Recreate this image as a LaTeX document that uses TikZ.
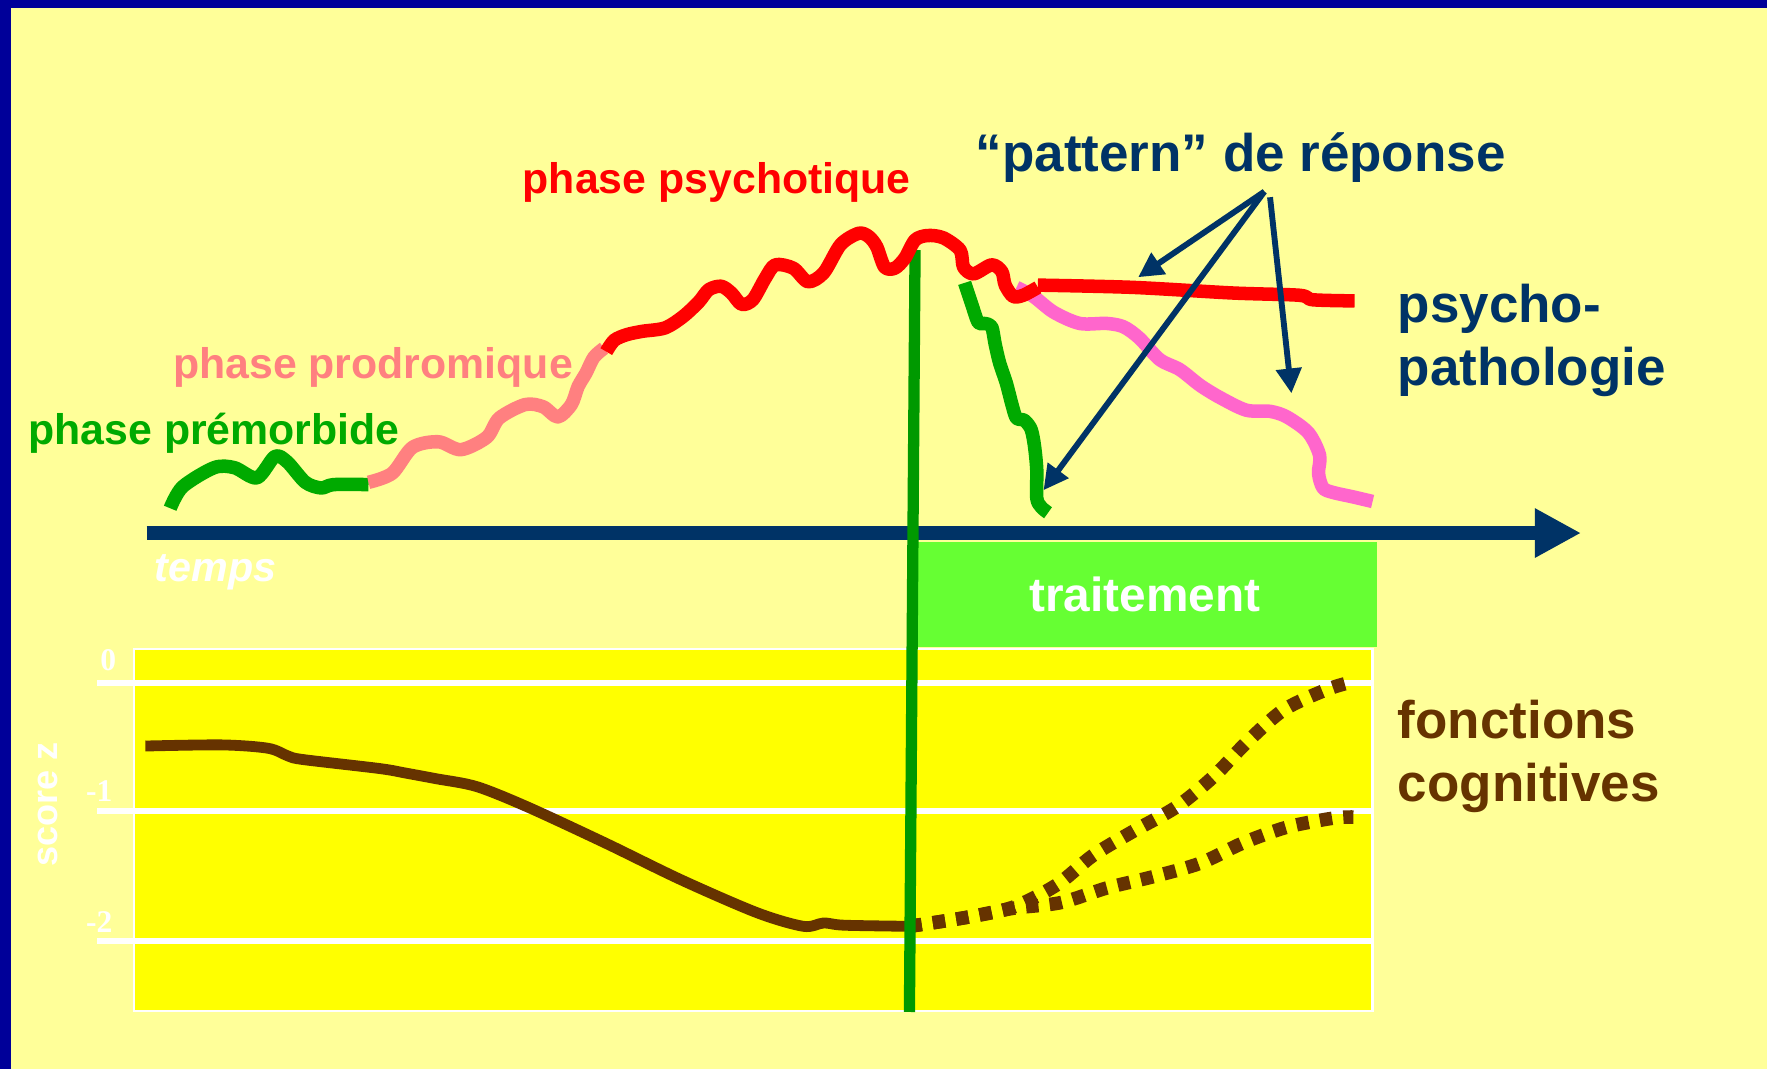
\documentclass[tikz,border=0pt]{standalone}
\usepackage{fontspec}
\setmainfont{Liberation Sans}
\newfontfamily\tickfont{Liberation Serif}
\usepackage{xcolor}
\usepackage{tikz}
\usetikzlibrary{arrows.meta,positioning}

\definecolor{paper}{HTML}{FFFF99}
\definecolor{frame}{HTML}{000099}
\definecolor{navy}{HTML}{003366}
\definecolor{salmon}{HTML}{FF8080}
\definecolor{rosy}{HTML}{FF66CC}
\definecolor{leaf}{HTML}{00AA00}
\definecolor{darkleaf}{HTML}{009900}
\definecolor{lime}{HTML}{66FF33}
\definecolor{plotyellow}{HTML}{FFFF00}
\definecolor{brown}{HTML}{663300}

\begin{document}
\begin{tikzpicture}[x=0.5pt,y=-0.5pt,
    txt/.style={inner sep=0pt,font=\bfseries},
    curve/.style={line width=6pt,line join=round},
    pointer/.style={draw=navy,line width=2.6pt,-{Triangle[length=11pt,width=11pt]}}]
  \useasboundingbox (0,0) rectangle (1568,949);
  % background and frame
  \fill[paper] (0,0) rectangle (1568,949);
  \fill[frame] (0,0) rectangle (1568,7);
  \fill[frame] (0,0) rectangle (10,949);

  % score panel
  \draw[white,line width=1pt,fill=plotyellow] (119,576) rectangle (1218,897);
  \foreach \y in {606,720,835}
    \draw[white,line width=2.7pt] (86,\y) -- (1218,\y);
  \node[txt,text=white,font=\tickfont\bfseries\fontsize{14}{16}\selectfont] (z0) at (96,586) {0};
  \node[txt,text=white,font=\tickfont\bfseries\fontsize{14}{16}\selectfont] (z1) at (88,702) {-1};
  \node[txt,text=white,font=\tickfont\bfseries\fontsize{14}{16}\selectfont] (z2) at (88,818) {-2};
  \node[txt,text=white,rotate=90,font=\bfseries\fontsize{16}{18}\selectfont] (scorez) at (43,714) {score z};

  \draw[brown,line width=4.8pt,line join=round] plot[smooth,tension=0.5] coordinates {
    (129,662) (197,661) (238,664) (256,671) (269,674) (337,682) (360,686)
    (387,691) (423,698) (468,716) (537,748) (605,781) (672,810) (713,822)
    (731,819) (749,821) (808,822)};
  \draw[brown,line width=6pt,dash pattern=on 5.5pt off 5pt] plot[smooth,tension=0.5] coordinates {
    (807,822) (858,814) (899,806) (941,801) (982,788) (1023,778) (1065,766)
    (1103,748) (1142,734) (1183,726) (1201,725)};
  \draw[brown,line width=6pt,dash pattern=on 5.5pt off 5pt] plot[smooth,tension=0.5] coordinates {
    (807,822) (858,814) (899,805) (938,785) (970,759) (1005,738) (1044,716)
    (1077,689) (1106,659) (1139,630) (1177,612) (1200,605)};

  % time axis and treatment
  \coordinate (t0) at (130,473);
  \coordinate (t1) at (1403,473);
  \draw[navy,line width=6.5pt,-{Triangle[length=20.5pt,width=20.5pt]}] (t0) -- (t1);
  \node[txt,text=white,anchor=base west,font=\bfseries\itshape\fontsize{18.3}{20}\selectfont] (temps) at (137,516) {temps};
  \node[txt,fill=lime,minimum width=206pt,minimum height=46.5pt,text=white,
        font=\bfseries\fontsize{21.2}{24}\selectfont] (traitement) at (1016,527.5) {traitement};
  \draw[darkleaf,line width=5pt] (812,222) -- (807,898);

  % phases
  \draw[leaf,curve] plot[smooth,tension=0.5] coordinates {
    (151,451) (162,432) (190,415) (208,415) (228,424) (244,405) (255,410)
    (271,428) (285,433) (296,430) (327,430)};
  \draw[salmon,curve] plot[smooth,tension=0.5] coordinates {
    (327,428) (348,420) (366,397) (389,392) (409,399) (432,388) (443,371)
    (466,359) (482,361) (495,370) (507,359) (513,343) (520,331) (527,317) (536,309)};
  \draw[rosy,curve] plot[smooth,tension=0.5] coordinates {
    (902,255) (917,263) (935,277) (958,287) (982,287) (997,290) (1011,300)
    (1029,319) (1047,328) (1065,342) (1083,353) (1106,364) (1127,365)
    (1142,370) (1161,384) (1171,404) (1170,420) (1174,433) (1183,437)
    (1201,441) (1218,445)};
  \draw[leaf,curve] plot[smooth,tension=0.5] coordinates {
    (856,251) (862,269) (868,286) (874,287) (880,290) (883,305) (887,322)
    (893,340) (898,359) (902,371) (909,373) (915,381) (918,396) (920,417)
    (920,442) (924,450) (930,455)};
  \draw[red,curve] plot[smooth,tension=0.5] coordinates {
    (538,312) (545,302) (556,297) (570,294) (590,291) (606,281) (620,268)
    (629,257) (640,254) (649,260) (658,270) (668,266) (679,247) (688,235)
    (704,238) (717,250) (731,242) (746,217) (762,207) (771,210) (778,219)
    (785,237) (794,238) (803,229) (812,213) (823,209) (837,211) (852,222)
    (855,237) (864,243) (880,235) (889,241) (892,253) (899,263) (908,262)
    (921,255)};
  \draw[red,curve] plot[smooth,tension=0.5] coordinates {
    (921,253) (1005,255) (1094,260) (1153,262) (1165,266) (1202,267)};

  % labels
  \node[txt,text=leaf,anchor=base,font=\bfseries\fontsize{19}{22}\selectfont] (premorbide) at (190,394) {phase prémorbide};
  \node[txt,text=salmon,anchor=base,font=\bfseries\fontsize{19}{22}\selectfont] (prodromique) at (331,336) {phase prodromique};
  \node[txt,text=red,anchor=base,font=\bfseries\fontsize{19}{22}\selectfont] (psychotique) at (636,172) {phase psychotique};
  \node[txt,text=navy,anchor=base,font=\bfseries\fontsize{23.5}{28}\selectfont] (pattern) at (1101,152) {“pattern” de réponse};
  \node[txt,text=navy,anchor=base west,align=left,font=\bfseries\fontsize{23.5}{28}\selectfont] (psycho) at (1240,342) {psycho-\\pathologie};
  \node[txt,text=brown,anchor=base west,align=left,font=\bfseries\fontsize{23.5}{28}\selectfont] (cogn) at (1240,711) {fonctions\\cognitives};

  % response arrows
  \coordinate (src) at (1122,170);
  \coordinate (src2) at (1127,175);
  \coordinate (tipred) at (1010,246);
  \coordinate (tipgreen) at (926,435);
  \coordinate (tippink) at (1146,349);
  \draw[pointer] (src) -- (tipred);
  \draw[pointer] (src) -- (tipgreen);
  \draw[pointer] (src2) -- (tippink);
\end{tikzpicture}
\end{document}
